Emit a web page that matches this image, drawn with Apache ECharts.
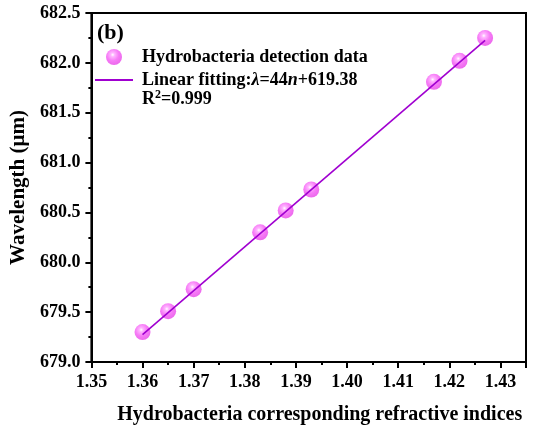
<!DOCTYPE html>
<html>
<head>
<meta charset="utf-8">
<script src="https://cdn.jsdelivr.net/npm/echarts@6/dist/echarts.min.js"></script>
<style>
  html, body { margin: 0; padding: 0; background: #fff; }
  #chart { width: 534px; height: 430px; }
</style>
</head>
<body>
<div id="chart"></div>
<script>
// Refractive index of each hydrobacteria sample and the detected resonance wavelength
const refractiveIndex = [1.360, 1.365, 1.370, 1.383, 1.388, 1.393, 1.417, 1.422, 1.427];
const wavelength = [679.30, 679.51, 679.73, 680.30, 680.52, 680.73, 681.81, 682.02, 682.25];

// Linear fit coefficients (slope shown rounded in the legend)
const fitSlope = [44.04];
const fitIntercept = [619.38];
const rSquared = ['0.999'];

// Axis ranges and tick spacing
const xRange = [1.35, 1.435];
const xStep = [0.01];
const yRange = [679.0, 682.5];
const yStep = [0.5];

const FONT = '"Liberation Serif", "Times New Roman", serif';

const scatterData = refractiveIndex.map((n, i) => [n, wavelength[i]]);
const nStart = refractiveIndex[0];
const nEnd = refractiveIndex[refractiveIndex.length - 1];
const fitData = [nStart, nEnd].map(n => [n, fitSlope[0] * n + fitIntercept[0]]);

const sphere = {
  type: 'radial', x: 0.42, y: 0.36, r: 0.62,
  colorStops: [
    { offset: 0, color: '#ffffff' },
    { offset: 0.2, color: '#ffb0ff' },
    { offset: 0.6, color: '#f674f6' },
    { offset: 1, color: '#ec62ec' }
  ]
};

const chart = echarts.init(document.getElementById('chart'), null, { renderer: 'canvas' });

chart.setOption({
  animation: false,
  backgroundColor: '#ffffff',
  grid: {
    left: 90, right: 8, top: 13, bottom: 68,
    show: true, borderColor: '#000', borderWidth: 2, backgroundColor: 'transparent'
  },
  legend: {
    orient: 'vertical',
    left: 95, top: 48, padding: 0,
    itemWidth: 38, itemHeight: 16, itemGap: 5,
    textStyle: {
      fontFamily: FONT, fontWeight: 'bold', fontSize: 18, color: '#000',
      padding: [0, 0, 0, 4],
      rich: {
        b: { fontFamily: FONT, fontWeight: 'bold', fontSize: 18, color: '#000' },
        i: { fontFamily: FONT, fontWeight: 'bold', fontStyle: 'italic', fontSize: 18, color: '#000' }
      }
    },
    formatter: function (name) {
      if (name === 'fit') {
        return '{b|Linear fitting:}{i|λ}{b|=' + Math.round(fitSlope[0]) + '}{i|n}{b|+' + fitIntercept[0].toFixed(2) + '}';
      }
      return name;
    },
    data: [
      { name: 'Hydrobacteria detection data', icon: 'circle' },
      { name: 'fit', icon: 'path://M0,0 L40,0 L40,2 L0,2 Z' }
    ]
  },
  graphic: [
    {
      type: 'text', left: 97, top: 22,
      style: { text: '(b)', fontFamily: FONT, fontWeight: 'bold', fontSize: 22, fill: '#000' }
    },
    {
      type: 'text', left: 142, top: 89,
      style: {
        text: '{b|R}{s|2}{b|=' + rSquared[0] + '}',
        rich: {
          b: { fontFamily: FONT, fontWeight: 'bold', fontSize: 18, fill: '#000', lineHeight: 20 },
          s: { fontFamily: FONT, fontWeight: 'bold', fontSize: 12, fill: '#000', verticalAlign: 'top', lineHeight: 20, padding: [0, 0, 7, 0] }
        }
      }
    }
  ],
  xAxis: {
    type: 'value',
    min: xRange[0], max: xRange[1], interval: xStep[0],
    name: 'Hydrobacteria corresponding refractive indices',
    nameLocation: 'middle', nameGap: 43,
    nameTextStyle: { fontFamily: FONT, fontWeight: 'bold', fontSize: 20, color: '#000', padding: [0, 0, 0, 22] },
    axisLine: { show: true, onZero: false, lineStyle: { color: '#000', width: 2 } },
    axisTick: { show: true, inside: false, length: 6, lineStyle: { color: '#000', width: 2 } },
    minorTick: { show: true, splitNumber: 2, length: 3, lineStyle: { color: '#000', width: 2 } },
    splitLine: { show: false },
    axisLabel: {
      showMaxLabel: false, margin: 11,
      fontFamily: FONT, fontWeight: 'bold', fontSize: 18, color: '#000',
      formatter: v => v.toFixed(2)
    }
  },
  yAxis: {
    type: 'value',
    min: yRange[0], max: yRange[1], interval: yStep[0],
    name: 'Wavelength (μm)',
    nameLocation: 'middle', nameGap: 54,
    nameTextStyle: { fontFamily: FONT, fontWeight: 'bold', fontSize: 21, color: '#000' },
    axisLine: { show: true, onZero: false, lineStyle: { color: '#000', width: 2 } },
    axisTick: { show: true, inside: false, length: 6, lineStyle: { color: '#000', width: 2 } },
    minorTick: { show: true, splitNumber: 2, length: 3, lineStyle: { color: '#000', width: 2 } },
    splitLine: { show: false },
    axisLabel: {
      margin: 11,
      fontFamily: FONT, fontWeight: 'bold', fontSize: 18, color: '#000',
      formatter: v => v.toFixed(1)
    }
  },
  series: [
    {
      name: 'Hydrobacteria detection data',
      type: 'scatter',
      symbol: 'circle',
      symbolSize: 16,
      data: scatterData,
      itemStyle: { color: sphere, opacity: 0.95 },
      z: 2
    },
    {
      name: 'fit',
      type: 'line',
      data: fitData,
      symbol: 'none',
      showSymbol: false,
      lineStyle: { color: '#a000d0', width: 1.6 },
      itemStyle: { color: '#a000d0' },
      z: 3
    }
  ]
});
</script>
</body>
</html>
